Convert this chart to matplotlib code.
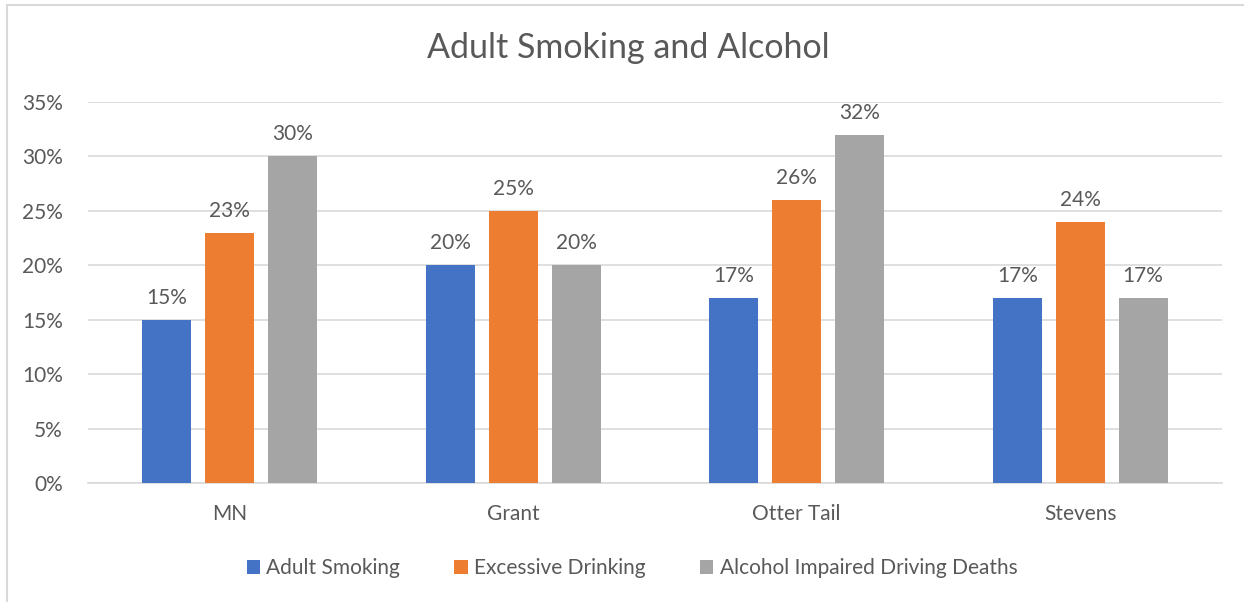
import matplotlib.pyplot as plt
import numpy as np
from matplotlib.lines import Line2D

# chart data
counties = ["MN", "Grant", "Otter Tail", "Stevens"]
series_names = ["Adult Smoking", "Excessive Drinking", "Alcohol Impaired Driving Deaths"]
adult_smoking = [15, 20, 17, 17]
excessive_drinking = [23, 25, 26, 24]
impaired_driving = [30, 20, 32, 17]
colors = ["#4472C4", "#ED7D31", "#A5A5A5"]

text_color = "#595959"
grid_color = "#D9D9D9"
plt.rcParams["font.family"] = ["Lato", "DejaVu Sans"]

fig = plt.figure(figsize=(12.44, 6.02), dpi=100)
ax = fig.add_axes([88 / 1244, 1 - 483 / 602, (1222 - 88) / 1244, (483 - 102) / 602])

x = np.arange(len(counties))
width = 0.173
step = 0.222
all_series = [adult_smoking, excessive_drinking, impaired_driving]

for i, values in enumerate(all_series):
    pos = x + (i - 1) * step
    vals = np.array(values) / 100
    ax.bar(pos, vals, width, color=colors[i], label=series_names[i], zorder=3)
    for px, v in zip(pos, values):
        ax.text(px, v / 100 + 0.011, f"{v}%", ha="center", va="bottom",
                fontsize=15, color=text_color)

ax.set_xlim(-0.5, len(counties) - 0.5)
ax.set_ylim(0, 0.35)
ax.set_yticks(np.arange(0, 0.36, 0.05))
ax.set_yticklabels([f"{int(round(t * 100))}%" for t in np.arange(0, 0.36, 0.05)])
ax.set_xticks(x)
ax.set_xticklabels(counties)
ax.tick_params(axis="both", length=0, labelsize=15, labelcolor=text_color)
ax.tick_params(axis="x", pad=15)
ax.tick_params(axis="y", pad=18)
ax.grid(axis="y", color=grid_color, linewidth=1.2, zorder=0)
for side in ["top", "right", "left"]:
    ax.spines[side].set_visible(False)
ax.spines["bottom"].set_color(grid_color)
ax.spines["bottom"].set_linewidth(1.2)

fig.text(628 / 1244, 1 - 48 / 602, "Adult Smoking and Alcohol", ha="center", va="center",
         fontsize=24.5, color=text_color)

handles, labels = ax.get_legend_handles_labels()
fig.legend(handles, labels, loc="center", bbox_to_anchor=(632 / 1244, 1 - 568 / 602),
           ncol=3, frameon=False, fontsize=15, labelcolor=text_color,
           handlelength=0.65, handleheight=0.65, handletextpad=0.3, columnspacing=2.6)

# chart border
fig.add_artist(Line2D([7.5 / 1244, 7.5 / 1244], [0, 1 - 4.5 / 602], color=grid_color,
                      linewidth=1.5, transform=fig.transFigure))
fig.add_artist(Line2D([7.5 / 1244, 1], [1 - 4.5 / 602, 1 - 4.5 / 602], color=grid_color,
                      linewidth=1.5, transform=fig.transFigure))

fig.savefig("out.png", dpi=100, facecolor="white")
